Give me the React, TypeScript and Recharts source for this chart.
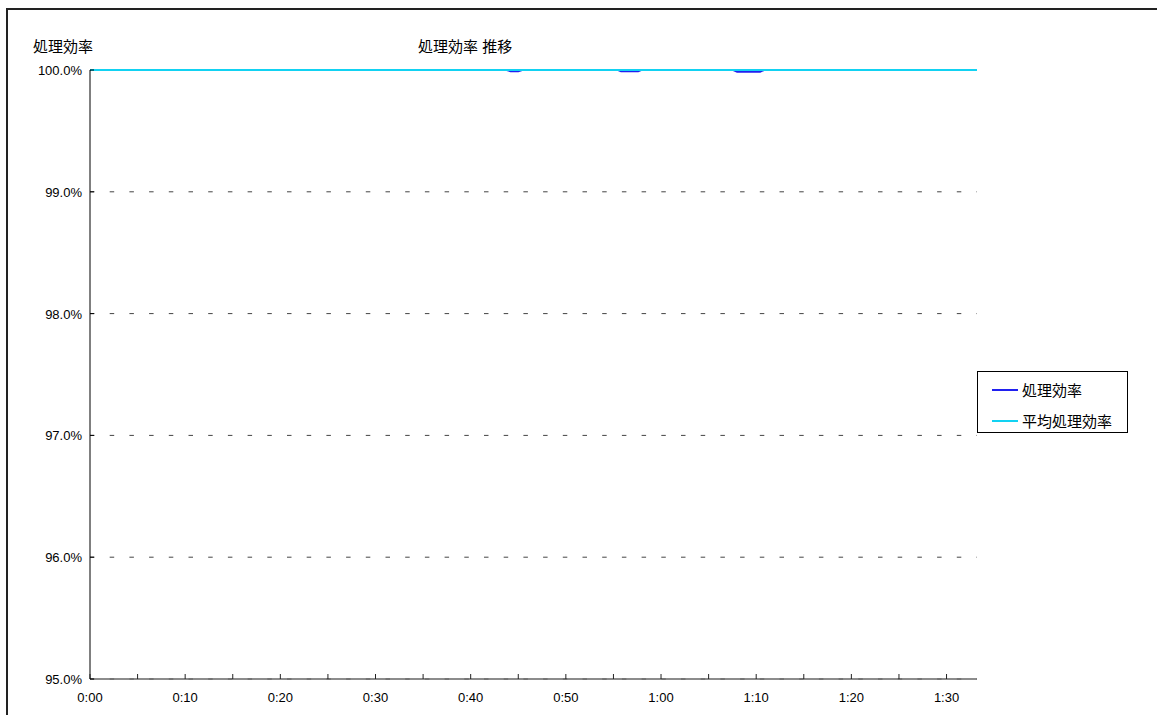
import { LineChart, Line, XAxis, YAxis, CartesianGrid, Legend } from 'recharts';

// elapsed minutes of each sample
const minutes = [0, 10, 20, 30, 40, 43.8, 44.2, 45, 45.4, 50, 55.5, 55.8, 57.6, 57.9, 60, 67.6, 68, 70.4, 70.8, 80, 90, 93.2];
const efficiency = [100, 100, 100, 100, 100, 100, 99.99, 99.99, 100, 100, 100, 99.99, 99.99, 100, 100, 100, 99.985, 99.985, 100, 100, 100, 100];
const averageEfficiency = [99.999, 99.999, 99.999, 99.999, 99.999, 99.999, 99.999, 99.999, 99.999, 99.999, 99.999, 99.999, 99.999, 99.999, 99.999, 99.999, 99.999, 99.999, 99.999, 99.999, 99.999, 99.999];

const xTicks = [0, 5, 10, 15, 20, 25, 30, 35, 40, 45, 50, 55, 60, 65, 70, 75, 80, 85, 90];
const yTicks = [95, 96, 97, 98, 99, 100];

const chartTitle = '処理効率 推移';
const yTitle = '処理効率';
const effName = '処理効率';
const avgName = '平均処理効率';

const FONT = "'Liberation Sans', Arial, 'Noto Sans CJK JP', sans-serif";

const data = minutes.map((m, i) => ({ minute: m, eff: efficiency[i], avg: averageEfficiency[i] }));

function fmtTime(m: number) {
  const h = Math.floor(m / 60);
  const mm = m % 60;
  return `${h}:${mm < 10 ? '0' : ''}${mm}`;
}

function XTick(props: any) {
  const { x, y, payload } = props;
  const v = payload.value as number;
  return (
    <g>
      <line x1={x} x2={x} y1={y} y2={y - 5} stroke="#222" strokeWidth={1} />
      {v % 10 === 0 && (
        <text x={x} y={y + 23} textAnchor="middle" fontSize={13} fontFamily={FONT} fill="#000">
          {fmtTime(v)}
        </text>
      )}
    </g>
  );
}

function YTick(props: any) {
  const { x, y, payload } = props;
  return (
    <g>
      <line x1={x} x2={x + 4} y1={y} y2={y} stroke="#000" strokeWidth={1} />
      <text x={x - 8} y={y + 5} textAnchor="end" fontSize={13} fontFamily={FONT} fill="#000">
        {(payload.value as number).toFixed(1)}%
      </text>
    </g>
  );
}

function LegendBox(props: any) {
  const items = props.payload || [];
  return (
    <div style={{ border: '1px solid #000', width: 149, height: 58, boxSizing: 'content-box', background: '#fff', paddingTop: 2 }}>
      {items.map((it: any) => (
        <div key={it.value} style={{ display: 'flex', alignItems: 'center', height: 31, fontFamily: FONT, fontSize: 15, color: '#000' }}>
          <span style={{ display: 'inline-block', width: 26, height: 2, background: it.color, marginLeft: 14, marginRight: 4 }} />
          {it.value}
        </div>
      ))}
    </div>
  );
}

export default function App() {
  return (
    <div style={{ position: 'fixed', left: 0, top: 0, width: 1157, height: 715, overflow: 'hidden', background: '#fff' }}>
      <div style={{ position: 'absolute', left: 6, top: 8, width: 1300, height: 900, border: '2px solid #222' }} />
      <div style={{ position: 'absolute', left: 0, top: 0 }}>
        {/* the legend reserves its own width on the right, so margin.right is the remainder */}
        <LineChart width={1157} height={715} data={data} margin={{ top: 70, right: 29, bottom: 6, left: 10 }}>
          <CartesianGrid horizontal vertical={false} stroke="#444" strokeDasharray="4.5 15.2" />
          <XAxis
            dataKey="minute"
            type="number"
            domain={[0, 93.2]}
            ticks={xTicks}
            interval={0}
            height={30}
            tickSize={0}
            tickMargin={0}
            tickLine={false}
            tick={<XTick />}
            stroke="#666"
            strokeWidth={1.5}
          />
          <YAxis
            type="number"
            domain={[95, 100]}
            ticks={yTicks}
            interval={0}
            width={80}
            tickSize={0}
            tickMargin={0}
            tickLine={false}
            tick={<YTick />}
            stroke="#000"
          />
          <Legend
            layout="horizontal"
            verticalAlign="middle"
            align="right"
            content={<LegendBox />}
            wrapperStyle={{ position: 'absolute', left: 977, top: 371, width: 151, height: 61 }}
          />
          <Line type="linear" dataKey="eff" name={effName} stroke="#2020F0" strokeWidth={2} dot={false} isAnimationActive={false} />
          <Line type="linear" dataKey="avg" name={avgName} stroke="#12D2F2" strokeWidth={2} dot={false} isAnimationActive={false} />
        </LineChart>
      </div>
      <div style={{ position: 'absolute', left: 33, top: 35, fontFamily: FONT, fontSize: 15, color: '#000', whiteSpace: 'nowrap' }}>{yTitle}</div>
      <div style={{ position: 'absolute', left: 418, top: 35, fontFamily: FONT, fontSize: 15, color: '#000', whiteSpace: 'nowrap' }}>{chartTitle}</div>
    </div>
  );
}
